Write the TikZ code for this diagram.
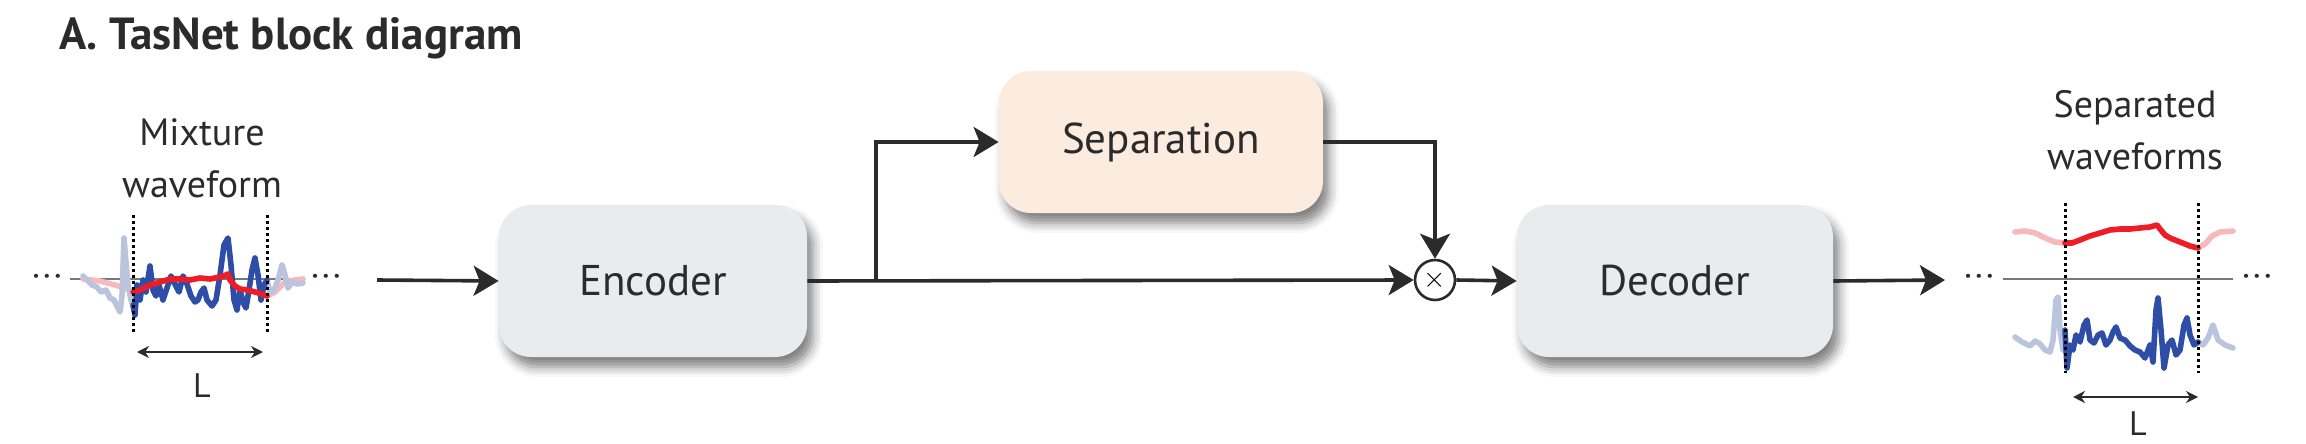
\documentclass[tikz,border=0pt]{standalone}
\usepackage{fontspec}
\setmainfont{PT Sans}
\usetikzlibrary{arrows.meta, shadows.blur}

\definecolor{boxgray}{HTML}{EAEBED}
\definecolor{sepfill}{HTML}{FCEBDF}
\definecolor{linegray}{HTML}{2B2B2B}
\definecolor{axisgray}{HTML}{777777}
\definecolor{wavblue}{HTML}{2E4DA7}
\definecolor{wavred}{HTML}{EE1D25}
\definecolor{fadeblue}{HTML}{BAC4DD}
\definecolor{fadered}{HTML}{F6B9BC}

\tikzset{
  block/.style={rounded corners=16pt, fill=boxgray, minimum width=154pt, minimum height=76pt,
    font=\fontsize{21.5}{25}\selectfont, text=linegray,
    blur shadow={shadow xshift=3pt, shadow yshift=-5pt, shadow blur radius=5pt, shadow opacity=50}},
  flow/.style={line width=1.8pt, draw=linegray, ->},
  wave/.style={line width=2.8pt, line join=round, line cap=round},
  window/.style={line width=1.5pt, dash pattern=on 1.5pt off 1.5pt},
  lbl/.style={font=\fontsize{19}{26}\selectfont, text=linegray, align=center},
  dots/.style={font=\fontsize{13}{13}\selectfont\bfseries, text=linegray},
  dimarrow/.style={line width=1.3pt, draw=linegray,
    {Stealth[length=6pt,width=6pt]}-{Stealth[length=6pt,width=6pt]}}
}

\begin{document}
\begin{tikzpicture}[>={Stealth[length=12.5pt,width=15pt,inset=3pt]}, x=0.5pt, y=-0.5pt]
  \useasboundingbox (0,0) rectangle (2306,444);

  % title
  \node[anchor=base west, font=\fontsize{22.5}{26}\selectfont\bfseries, text=linegray]
    (title) at (52,50) {A. TasNet block diagram};

  % blocks
  \node[block] (enc) at (653,281) {Encoder};
  \node[block, fill=sepfill, minimum width=162pt, minimum height=71pt] (sep) at (1161,142) {Separation};
  \node[block, minimum width=158pt] (dec) at (1675,281) {Decoder};
  \node[circle, draw=linegray, line width=1.3pt, minimum size=20pt, inner sep=0pt]
    (mult) at (1435,280) {\Large$\times$};

  % connectors
  \coordinate (mixend) at (377,280);
  \coordinate (br) at (876,280);
  \coordinate (sepend) at (1945,280);
  \draw[flow] (mixend) -- (enc.west);
  \draw[flow] (enc.east) -- (mult.west);
  \draw[flow] (br) |- (sep.west);
  \draw[flow] (sep.east) -| (mult.north);
  \draw[flow] (mult.east) -- (dec.west);
  \draw[flow] (dec.east) -- (sepend);

  % mixture waveform (left)
  \node[lbl] (mixlbl) at (202,158) {Mixture\\waveform};
  \node[dots] (mixdotsl) at (47,279) {·\,·\,·};
  \node[dots] (mixdotsr) at (326,279) {·\,·\,·};
  \draw[axisgray, line width=0.6pt] (70,279) -- (303,279);
  \draw[wave, fadered] (83,279) -- (100,281) -- (115,285) -- (125,288) -- (133,292);
  \draw[wave, fadered] (267,296) -- (275,292) -- (285,282) -- (295,280) -- (303,279);
  \draw[wave, fadeblue] (83,276) -- (88,281) -- (92,285) -- (97,287) -- (101,292) -- (106,290)
    -- (110,298) -- (114,300) -- (117,306) -- (120,312) -- (122,296) -- (124,238) -- (126,262)
    -- (128,285) -- (131,300) -- (133,305);
  \draw[wave, fadeblue] (267,280) -- (270,292) -- (274,290) -- (278,280) -- (282,265)
    -- (285,275) -- (288,288) -- (292,282) -- (297,284) -- (303,283);
  \draw[wave, wavblue] (133,305) -- (135,315) -- (137,285) -- (140,300) -- (143,280) -- (146,292)
    -- (150,266) -- (153,290) -- (156,296) -- (159,285) -- (163,300) -- (167,288) -- (171,276)
    -- (175,284) -- (179,292) -- (183,276) -- (187,284) -- (191,296) -- (195,302) -- (198,300)
    -- (201,292) -- (204,288) -- (207,300) -- (212,306) -- (216,300) -- (220,275) -- (224,245)
    -- (228,238) -- (231,265) -- (234,300) -- (237,310) -- (240,290) -- (243,302) -- (246,308)
    -- (249,290) -- (252,270) -- (255,258) -- (258,275) -- (261,300) -- (264,285) -- (267,280);
  \draw[wave, wavred] (133,292) -- (140,290) -- (150,285) -- (160,282) -- (170,279) -- (180,279)
    -- (190,280) -- (200,278) -- (210,279) -- (220,277) -- (226,275) -- (228,274) -- (230,280)
    -- (235,286) -- (240,289) -- (248,290) -- (255,292) -- (262,294) -- (267,296);
  \draw[window] (133,215) -- (133,333);
  \draw[window] (267,215) -- (267,333);
  \draw[dimarrow] (137,352) -- (263,352);
  \node[font=\fontsize{17}{20}\selectfont, text=linegray] (mixlen) at (202,386) {L};

  % separated waveforms (right)
  \node[lbl] (seplbl) at (2135,130) {Separated\\waveforms};
  \node[dots] (sepdotsl) at (1979,279) {·\,·\,·};
  \node[dots] (sepdotsr) at (2257,279) {·\,·\,·};
  \draw[axisgray, line width=0.6pt] (2003,279) -- (2233,279);
  \draw[wave, fadered] (2015,232) -- (2025,231) -- (2035,233) -- (2045,238) -- (2055,242) -- (2065,243);
  \draw[wave, fadered] (2198,248) -- (2205,244) -- (2212,236) -- (2220,232) -- (2233,231);
  \draw[wave, wavred] (2065,243) -- (2072,243) -- (2080,240) -- (2090,236) -- (2100,233)
    -- (2110,230) -- (2120,229) -- (2130,229) -- (2140,228) -- (2150,227) -- (2157,225)
    -- (2160,229) -- (2165,235) -- (2170,238) -- (2175,240) -- (2180,242) -- (2185,244)
    -- (2190,246) -- (2198,248);
  \draw[wave, fadeblue] (2015,337) -- (2022,342) -- (2030,346) -- (2035,341) -- (2040,344)
    -- (2045,350) -- (2050,352) -- (2053,340) -- (2056,300) -- (2058,297) -- (2060,330)
    -- (2063,350) -- (2065,345);
  \draw[wave, fadeblue] (2198,342) -- (2203,345) -- (2208,338) -- (2213,325) -- (2218,340)
    -- (2225,345) -- (2233,348);
  \draw[wave, wavblue] (2065,330) -- (2067,368) -- (2070,345) -- (2073,350) -- (2076,335)
    -- (2080,342) -- (2084,325) -- (2087,320) -- (2090,340) -- (2094,343) -- (2098,335)
    -- (2102,333) -- (2106,345) -- (2110,340) -- (2113,332) -- (2116,327) -- (2120,338)
    -- (2125,340) -- (2130,346) -- (2135,350) -- (2140,352) -- (2145,358) -- (2150,345)
    -- (2153,362) -- (2156,310) -- (2158,298) -- (2161,330) -- (2164,368) -- (2168,345)
    -- (2172,340) -- (2176,355) -- (2180,350) -- (2184,325) -- (2187,318) -- (2190,335)
    -- (2194,345) -- (2198,342);
  \draw[window] (2065,203) -- (2065,373);
  \draw[window] (2198,203) -- (2198,373);
  \draw[dimarrow] (2073,397) -- (2198,397);
  \node[font=\fontsize{17}{20}\selectfont, text=linegray] (seplen) at (2138,424) {L};
\end{tikzpicture}
\end{document}
